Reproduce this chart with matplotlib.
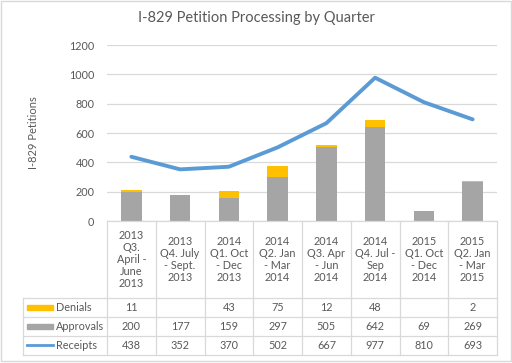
import numpy as np
import matplotlib.pyplot as plt
import matplotlib.transforms as mtransforms
from matplotlib.patches import Rectangle

plt.rcParams['font.family'] = ['Lato', 'DejaVu Sans']

# data
quarters = ["2013\nQ3.\nApril -\nJune\n2013", "2013\nQ4. July\n- Sept.\n2013",
            "2014\nQ1. Oct\n- Dec\n2013", "2014\nQ2. Jan\n- Mar\n2014",
            "2014\nQ3. Apr\n- Jun\n2014", "2014\nQ4. Jul -\nSep\n2014",
            "2015\nQ1. Oct\n- Dec\n2014", "2015\nQ2. Jan\n- Mar\n2015"]
denials = [11, 0, 43, 75, 12, 48, 0, 2]
denials_txt = ["11", "", "43", "75", "12", "48", "", "2"]
approvals = [200, 177, 159, 297, 505, 642, 69, 269]
receipts = [438, 352, 370, 502, 667, 977, 810, 693]

c_den = '#FFC000'
c_app = '#A5A5A5'
c_rec = '#5B9BD5'
c_txt = '#595959'
c_grid = '#D9D9D9'

W, H = 512, 363
fig = plt.figure(figsize=(W / 100, H / 100), dpi=100)
fig.patches.append(Rectangle((0.5 / W, 2 / H), 1 - 1.5 / W, 1 - 2.5 / H, transform=fig.transFigure,
                             fill=False, edgecolor=c_grid, lw=1))

ax = fig.add_axes([107 / W, 1 - 221 / H, 390 / W, 176 / H])
x = np.arange(len(quarters))
ax.bar(x, approvals, width=0.42, color=c_app, zorder=2)
ax.bar(x, denials, width=0.42, bottom=approvals, color=c_den, zorder=2)
ax.plot(x, receipts, color=c_rec, lw=2.8, zorder=3, solid_capstyle='round')

ax.set_xlim(-0.5, 7.5)
ax.set_ylim(0, 1200)
ax.set_yticks(np.arange(0, 1201, 200))
ax.yaxis.grid(True, color=c_grid, lw=0.9, zorder=0)
ax.set_xticks([])
for s in ax.spines.values():
    s.set_visible(False)
ax.tick_params(axis='y', length=0, labelsize=7.8, labelcolor=c_txt, pad=9)
ax.set_ylabel("I-829 Petitions", color=c_txt, fontsize=8, labelpad=22)
fig.text(0.5, 1 - 18 / H, "I-829 Petition Processing by Quarter", ha='center', va='center',
         fontsize=10.5, color=c_txt)

# data table under the axes
tr = mtransforms.blended_transform_factory(ax.transData, ax.transAxes)
ph = 176.0
y_head = -77 / ph
row_h = 18.9 / ph
rows = [y_head, y_head - row_h, y_head - 2 * row_h, y_head - 3 * row_h]
x_left = -0.5 - 84 / 48.75
kw = dict(transform=tr, color=c_grid, lw=0.9, clip_on=False)

ax.plot([-0.5, 7.5], [0, 0], **kw)
for i in range(len(quarters) + 1):
    ax.plot([i - 0.5, i - 0.5], [0, rows[-1]], **kw)
ax.plot([x_left, x_left], [rows[0], rows[-1]], **kw)
for yy in rows:
    ax.plot([x_left, 7.5], [yy, yy], **kw)

for i, q in enumerate(quarters):
    ax.text(i, y_head / 2, q, transform=tr, ha='center', va='center', fontsize=7.8,
            color=c_txt, linespacing=1.1)

labels = ["Denials", "Approvals", "Receipts"]
values = [denials_txt, [str(v) for v in approvals], [str(v) for v in receipts]]
for r in range(3):
    yc = rows[r] - row_h / 2
    ax.text(x_left + 0.68, yc, labels[r], transform=tr, ha='left', va='center',
            fontsize=7.8, color=c_txt)
    for i, v in enumerate(values[r]):
        ax.text(i, yc, v, transform=tr, ha='center', va='center', fontsize=7.8, color=c_txt)

# legend keys in the row labels
kx0, kx1 = x_left + 0.08, x_left + 0.62
ax.add_patch(Rectangle((kx0, rows[0] - row_h / 2 - 0.013), kx1 - kx0, 0.026, transform=tr,
                       color=c_den, clip_on=False))
ax.add_patch(Rectangle((kx0, rows[1] - row_h / 2 - 0.013), kx1 - kx0, 0.026, transform=tr,
                       color=c_app, clip_on=False))
ax.plot([kx0, kx1], [rows[2] - row_h / 2] * 2, transform=tr, color=c_rec, lw=2,
        clip_on=False)

fig.savefig("out.png", dpi=100)
